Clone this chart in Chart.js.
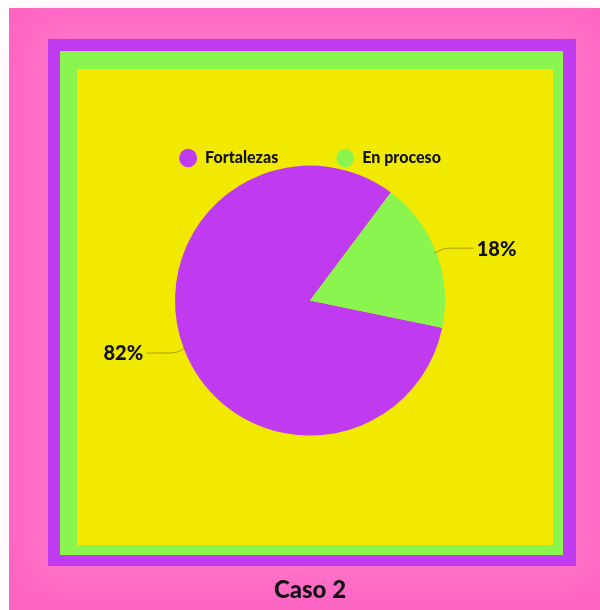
<!DOCTYPE html>
<html>
<head>
<meta charset="utf-8">
<script src="https://cdn.jsdelivr.net/npm/chart.js@4.4.1/dist/chart.umd.min.js"></script>
<style>
  html, body { margin: 0; padding: 0; background: #ffffff; }
  #stage { position: relative; width: 600px; height: 610px; overflow: hidden; background: #ffffff; }
  .box { position: absolute; }
  #pink { left: 9px; top: 8px; width: 591px; height: 602px; background: #ff64c3; }
  #purple { left: 48px; top: 39px; width: 528px; height: 527px; background: #c03af0; box-shadow: 0 0 40px 18px rgba(255,150,215,0.35); }
  #green { left: 60px; top: 51px; width: 503px; height: 504px; background: #8bf550; }
  #yellow { left: 77px; top: 69px; width: 476px; height: 476px; background: #f2e900; }
  #wrap { position: absolute; left: 0; top: 0; width: 600px; height: 610px; }
</style>
</head>
<body>
<div id="stage">
  <div class="box" id="pink"></div>
  <div class="box" id="purple"></div>
  <div class="box" id="green"></div>
  <div class="box" id="yellow"></div>
  <div id="wrap"><canvas id="c" width="600" height="610"></canvas></div>
</div>
<script>
// ---- data ----
const categories = ["Fortalezas", "En proceso"];
const values = [82, 18];
const sliceColors = ["#c03af0", "#8bf550"];
const valueLabels = ["82%", "18%"];
const chartTitle = "Caso 2";

const FONT = "Lato, 'Open Sans', 'DejaVu Sans', sans-serif";

const leaderLabels = {
  id: 'leaderLabels',
  afterDatasetsDraw(chart) {
    const ctx = chart.ctx;
    const meta = chart.getDatasetMeta(0);
    meta.data.forEach((arc, i) => {
      const p = arc.getProps(['x', 'y', 'startAngle', 'endAngle', 'outerRadius'], true);
      const mid = (p.startAngle + p.endAngle) / 2;
      const cos = Math.cos(mid), sin = Math.sin(mid);
      const x0 = p.x + cos * (p.outerRadius - 2);
      const y0 = p.y + sin * (p.outerRadius - 2);
      const x1 = p.x + cos * (p.outerRadius + 7);
      const y1 = p.y + sin * (p.outerRadius + 7) + (sin > 0 ? 2 : -2);
      const dir = cos >= 0 ? 1 : -1;
      const x2 = x1 + dir * 31;
      ctx.save();
      ctx.strokeStyle = 'rgba(120,110,30,0.6)';
      ctx.lineWidth = 1;
      ctx.beginPath();
      ctx.moveTo(x0, y0);
      ctx.quadraticCurveTo(x1, y1, x1 + dir * 6, y1);
      ctx.lineTo(x2, y1);
      ctx.stroke();
      ctx.fillStyle = '#111111';
      ctx.font = "900 20px " + FONT;
      ctx.textBaseline = 'middle';
      ctx.textAlign = dir > 0 ? 'left' : 'right';
      ctx.fillText(valueLabels[i], x2 + dir * 3, y1 + 1);
      ctx.restore();
    });
  }
};

new Chart(document.getElementById('c'), {
  type: 'pie',
  data: {
    labels: categories,
    datasets: [{
      data: values,
      backgroundColor: sliceColors,
      borderWidth: 0,
      hoverOffset: 0,
      clip: false
    }]
  },
  options: {
    responsive: false,
    animation: false,
    rotation: 101.6,
    radius: 135,
    layout: { padding: { top: 92, left: 20, right: 0, bottom: 5 } },
    plugins: {
      legend: {
        position: 'top',
        maxHeight: 80,
        labels: {
          usePointStyle: true,
          pointStyle: 'circle',
          boxHeight: 13,
          pointStyleWidth: 18,
          padding: 58,
          color: '#111111',
          font: { family: FONT, size: 16, weight: '900' }
        }
      },
      title: {
        display: true,
        text: chartTitle,
        position: 'bottom',
        color: '#111111',
        font: { family: FONT, size: 24, weight: '900' },
        padding: { top: 147, bottom: 0 }
      },
      tooltip: { enabled: false }
    }
  },
  plugins: [leaderLabels]
});
</script>
</body>
</html>
